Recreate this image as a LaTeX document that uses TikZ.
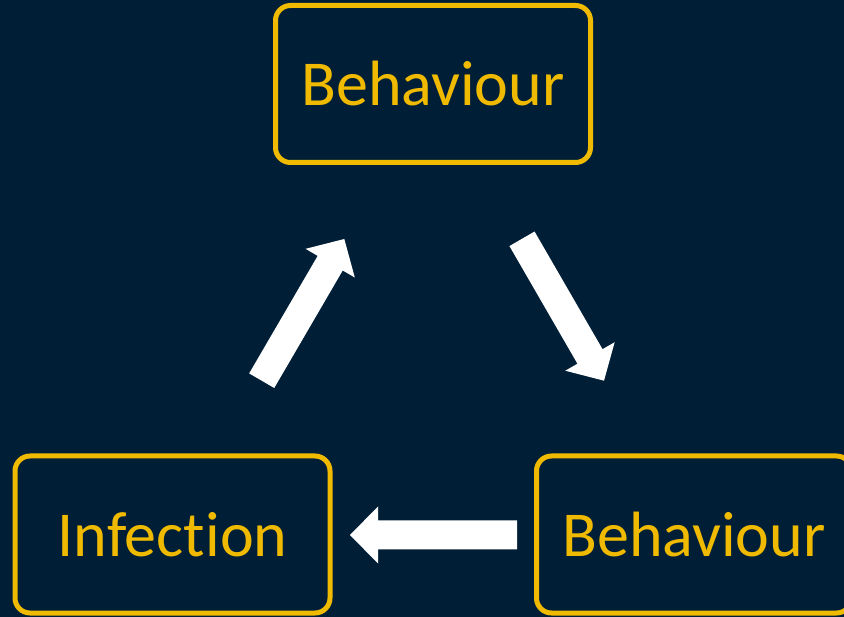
\documentclass[tikz,border=0pt]{standalone}
\usepackage{fontspec}
\setmainfont{Carlito}[Ligatures={NoCommon}]
\usetikzlibrary{calc}
\definecolor{bgnavy}{RGB}{0,31,54}
\definecolor{boxyellow}{RGB}{240,186,0}
\newcommand\blockarrow[2]{%
  \coordinate (h) at ($(#2)!28pt!(#1)$);
  \fill[white] ($(#1)!14.5pt!90:(#2)$) -- ($(h)!14.5pt!-90:(#1)$) -- ($(h)!28.5pt!-90:(#1)$)
    -- (#2) -- ($(h)!28.5pt!90:(#1)$) -- ($(h)!14.5pt!90:(#1)$) -- ($(#1)!14.5pt!-90:(#2)$) -- cycle;
}
\begin{document}
\begin{tikzpicture}[x=1pt,y=-1pt,
  box/.style={draw=boxyellow, line width=5pt, rounded corners=15pt,
    minimum width=315pt, minimum height=157pt, inner sep=0pt,
    text=boxyellow, font=\fontsize{64}{77}\selectfont}]
\fill[bgnavy] (0,0) rectangle (844,617);
\useasboundingbox (0,0) rectangle (844,617);
\node[box] (top) at (433,84) {Behaviour};
\node[box] (inf) at (172.5,534.5) {Infection};
\node[box] (beh) at (694,534.5) {Behaviour};
\coordinate (a1s) at (261.7,380.7);
\coordinate (a1e) at (344.3,239);
\coordinate (a2s) at (522,238.8);
\coordinate (a2e) at (604,380.7);
\coordinate (a3s) at (517,535);
\coordinate (a3e) at (350,535);
\blockarrow{a1s}{a1e}
\blockarrow{a2s}{a2e}
\blockarrow{a3s}{a3e}
\end{tikzpicture}
\end{document}
